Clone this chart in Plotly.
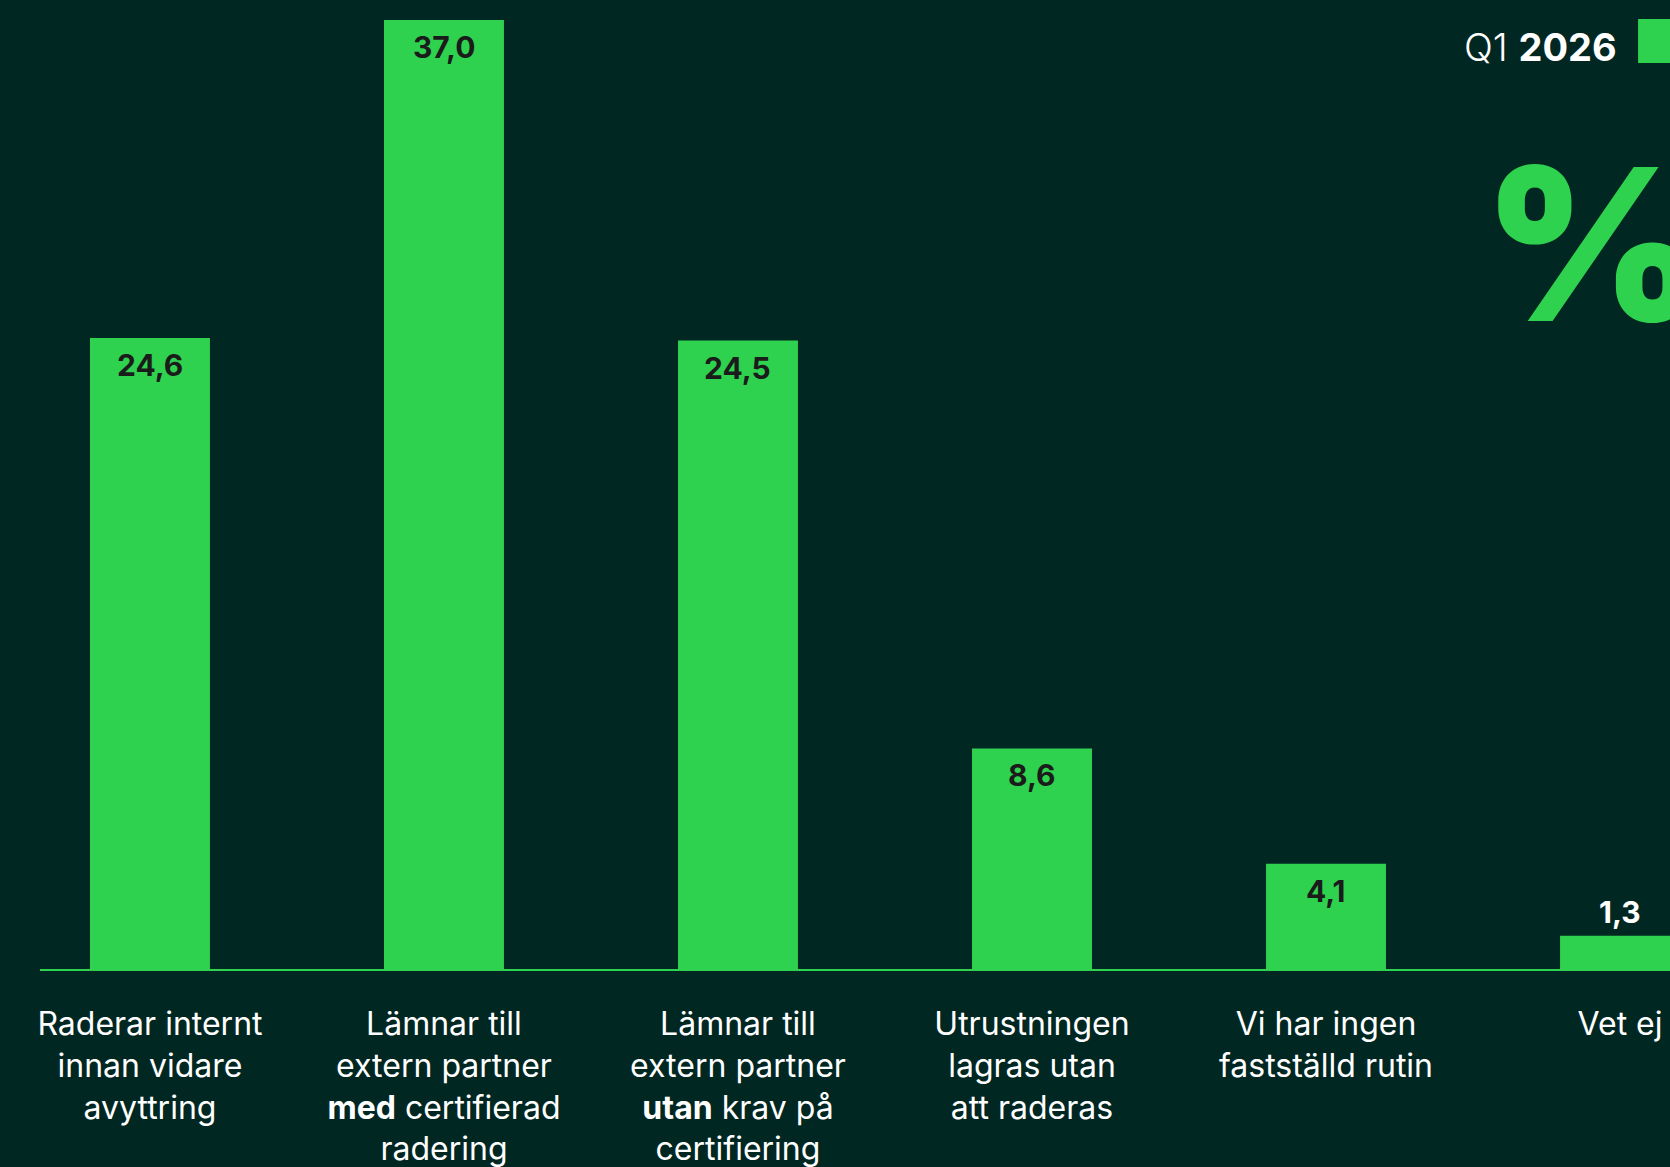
import plotly.graph_objects as go

categories = [
    "Raderar internt<br>innan vidare<br>avyttring",
    "Lämnar till<br>extern partner<br><b>med</b> certifierad<br>radering",
    "Lämnar till<br>extern partner<br><b>utan</b> krav på<br>certifiering",
    "Utrustningen<br>lagras utan<br>att raderas",
    "Vi har ingen<br>fastställd rutin",
    "Vet ej",
]
values = [24.6, 37.0, 24.5, 8.6, 4.1, 1.3]
value_labels = ["24,6", "37,0", "24,5", "8,6", "4,1", "1,3"]
series_name = "Q1 <b>2026</b>"

BG = "#012723"
GREEN = "#2ED24E"
FONT = "Inter, 'DM Sans', Lato, sans-serif"

fig = go.Figure()
fig.add_trace(go.Bar(
    x=categories, y=values, marker=dict(color=GREEN, line=dict(width=0)),
    width=0.408, showlegend=False, hoverinfo="skip",
))

annotations = []
for c, v, t in zip(categories, values, value_labels):
    inside = v >= 3
    annotations.append(dict(
        x=c, y=v, xref="x", yref="y", text=f"<b>{t}</b>", showarrow=False,
        yanchor="middle", xanchor="center",
        yshift=-27 if inside else 24,
        font=dict(family=FONT, size=30, color="#1b1b1b" if inside else "#ffffff"),
    ))

# legend-like label
annotations.append(dict(
    x=0.9688, y=0.9515, xref="paper", yref="paper", text=series_name,
    showarrow=False, xanchor="right", yanchor="middle",
    font=dict(family=FONT, size=38, color="#ffffff", weight=300),
))
# big percent sign
annotations.append(dict(
    x=0.884, y=0.748, xref="paper", yref="paper", text="%",
    showarrow=False, xanchor="left", yanchor="middle",
    font=dict(family=FONT, size=212, color=GREEN, weight=900),
))

fig.update_layout(
    width=1670, height=1167,
    paper_bgcolor=BG, plot_bgcolor=BG,
    margin=dict(l=40, r=0, t=0, b=198),
    annotations=annotations,
    shapes=[dict(type="rect", xref="paper", yref="paper",
                 x0=0.9804, x1=1.0074, y0=0.935, y1=0.9804,
                 fillcolor=GREEN, line=dict(width=0), layer="above")],
    bargap=0.2,
)
fig.update_xaxes(
    type="category", range=[-0.374, 5.17],
    showline=True, linecolor=GREEN, linewidth=2, showgrid=False,
    ticks="", ticklabelstandoff=26,
    tickfont=dict(family=FONT, size=32, color="#ffffff"),
    fixedrange=True,
)
fig.update_yaxes(
    range=[0, 37.78], visible=False, showgrid=False, zeroline=False, fixedrange=True,
)

fig.write_html("out.html", config={"displayModeBar": False},
               post_script="document.body.style.margin='0';")
